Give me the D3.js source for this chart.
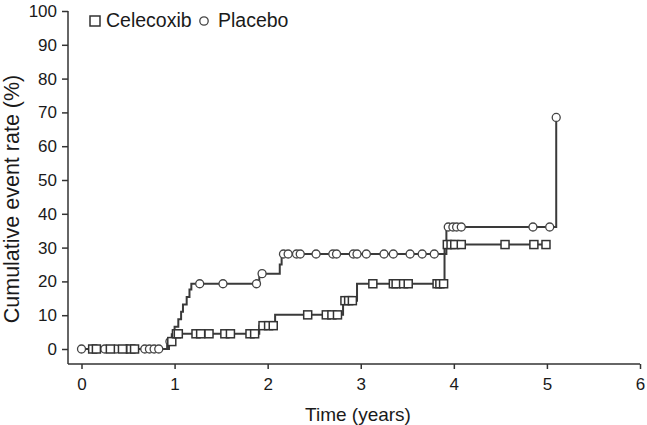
<!DOCTYPE html>
<html>
<head>
<meta charset="utf-8">
<script src="https://cdn.jsdelivr.net/npm/d3@7"></script>
<style>
html,body{margin:0;padding:0;background:#fff;}
svg{display:block;font-family:"Liberation Sans",Arial,sans-serif;}
</style>
</head>
<body>
<svg id="chart" width="647" height="425"></svg>
<script>
// ---- data ----
const xTicks = [0,1,2,3,4,5,6];
const yTicks = [0,10,20,30,40,50,60,70,80,90,100];
const seriesNames = ["Celecoxib","Placebo"];

// step curve points [time, rate]
const placeboSteps = [[0,0],[0.92,2.2],[0.97,4.4],[1.00,6.6],[1.04,8.8],[1.07,11.0],[1.09,13.2],[1.13,15.4],[1.16,17.6],[1.18,19.3],
  [1.91,22.3],[2.13,25.0],[2.15,28.1],[3.92,36.1],[5.03,36.1],[5.10,68.5]];
const celecoxibSteps = [[0,0],[0.94,2.2],[1.00,4.5],[1.91,6.9],[2.08,10.1],[2.81,14.3],[2.96,19.3],[3.90,30.9],[4.99,30.9]];

// censoring marks [time, rate]
const placeboMarks = [[0,0],[0.25,0],[0.37,0],[0.49,0],[0.68,0],[0.73,0],[0.78,0],[0.83,0],
  [0.95,2.2],[1.27,19.3],[1.52,19.3],[1.88,19.3],[1.94,22.3],
  [2.17,28.1],[2.22,28.1],[2.31,28.1],[2.35,28.1],[2.52,28.1],[2.70,28.1],[2.74,28.1],[2.92,28.1],[2.96,28.1],
  [3.06,28.1],[3.25,28.1],[3.35,28.1],[3.53,28.1],[3.66,28.1],[3.79,28.1],
  [3.94,36.1],[3.99,36.1],[4.03,36.1],[4.08,36.1],[4.85,36.1],[5.03,36.1],[5.10,68.5]];
const celecoxibMarks = [[0.12,0],[0.16,0],[0.31,0],[0.44,0],[0.53,0],[0.57,0],
  [0.97,2.2],[1.02,4.5],[1.04,4.5],[1.23,4.5],[1.28,4.5],[1.37,4.5],[1.54,4.5],[1.60,4.5],[1.81,4.5],[1.86,4.5],
  [1.95,6.9],[2.01,6.9],[2.06,6.9],
  [2.43,10.1],[2.63,10.1],[2.69,10.1],[2.75,10.1],
  [2.83,14.3],[2.87,14.3],[2.91,14.3],
  [3.13,19.3],[3.35,19.3],[3.38,19.3],[3.46,19.3],[3.51,19.3],[3.82,19.3],[3.85,19.3],[3.89,19.3],
  [3.93,30.9],[3.97,30.9],[4.01,30.9],[4.08,30.9],[4.55,30.9],[4.86,30.9],[4.99,30.9]];

// ---- drawing ----
const svg = d3.select("#chart");
const x = d3.scaleLinear().domain([0,6]).range([81.5,640]);
const y = d3.scaleLinear().domain([0,100]).range([349,11]);
const axisCol = "#333";
const lineCol = "#3a3a3a";
const axisX0 = 68, axisY0 = 364;

// y axis
const gy = svg.append("g").attr("transform",`translate(${axisX0},0)`)
  .call(d3.axisLeft(y).tickValues(yTicks).tickSize(6).tickPadding(5).tickFormat(d3.format("d")));
gy.select(".domain").remove();
gy.selectAll(".tick line").attr("stroke",axisCol).attr("stroke-width",1.5);
gy.selectAll(".tick text").attr("font-size",17).attr("fill","#1a1a1a").attr("font-family","Liberation Sans, Arial, sans-serif");
svg.append("line").attr("x1",axisX0).attr("x2",axisX0).attr("y1",y(100)).attr("y2",axisY0)
  .attr("stroke",axisCol).attr("stroke-width",1.5);

// x axis
const gx = svg.append("g").attr("transform",`translate(0,${axisY0})`)
  .call(d3.axisBottom(x).tickValues(xTicks).tickSize(5).tickPadding(9).tickFormat(d3.format("d")));
gx.select(".domain").remove();
gx.selectAll(".tick line").attr("stroke",axisCol).attr("stroke-width",1.5);
gx.selectAll(".tick text").attr("font-size",17).attr("fill","#1a1a1a").attr("font-family","Liberation Sans, Arial, sans-serif");
svg.append("line").attr("x1",axisX0).attr("x2",x(6)).attr("y1",axisY0).attr("y2",axisY0)
  .attr("stroke",axisCol).attr("stroke-width",1.5);

// titles
svg.append("text").attr("x",358).attr("y",421).attr("text-anchor","middle")
  .attr("font-size",19).attr("fill","#1a1a1a").text("Time (years)");
svg.append("text").attr("transform","translate(19,199) rotate(-90)").attr("text-anchor","middle")
  .attr("font-size",21.5).attr("fill","#1a1a1a").text("Cumulative event rate (%)");

// lines
const line = d3.line().x(d=>x(d[0])).y(d=>y(d[1])).curve(d3.curveStepAfter);
[placeboSteps, celecoxibSteps].forEach(s=>{
  svg.append("path").datum(s).attr("d",line).attr("fill","none")
    .attr("stroke",lineCol).attr("stroke-width",2);
});

// markers
svg.append("g").selectAll("circle").data(placeboMarks).join("circle")
  .attr("cx",d=>x(d[0])).attr("cy",d=>y(d[1])).attr("r",4)
  .attr("fill","#fff").attr("stroke","#444").attr("stroke-width",1.3);
const sq = 8;
svg.append("g").selectAll("rect").data(celecoxibMarks).join("rect")
  .attr("x",d=>x(d[0])-sq/2).attr("y",d=>y(d[1])-sq/2).attr("width",sq).attr("height",sq)
  .attr("fill","#fff").attr("stroke","#333").attr("stroke-width",1.5);

// legend
const lg = svg.append("g");
lg.append("rect").attr("x",90).attr("y",16).attr("width",10).attr("height",10)
  .attr("fill","#fff").attr("stroke","#333").attr("stroke-width",1.5);
lg.append("text").attr("x",106).attr("y",27).attr("font-size",19.5).attr("fill","#1a1a1a").text(seriesNames[0]);
lg.append("circle").attr("cx",204).attr("cy",21).attr("r",4.2)
  .attr("fill","#fff").attr("stroke","#444").attr("stroke-width",1.3);
lg.append("text").attr("x",218).attr("y",27).attr("font-size",19.5).attr("fill","#1a1a1a").text(seriesNames[1]);
</script>
</body>
</html>
